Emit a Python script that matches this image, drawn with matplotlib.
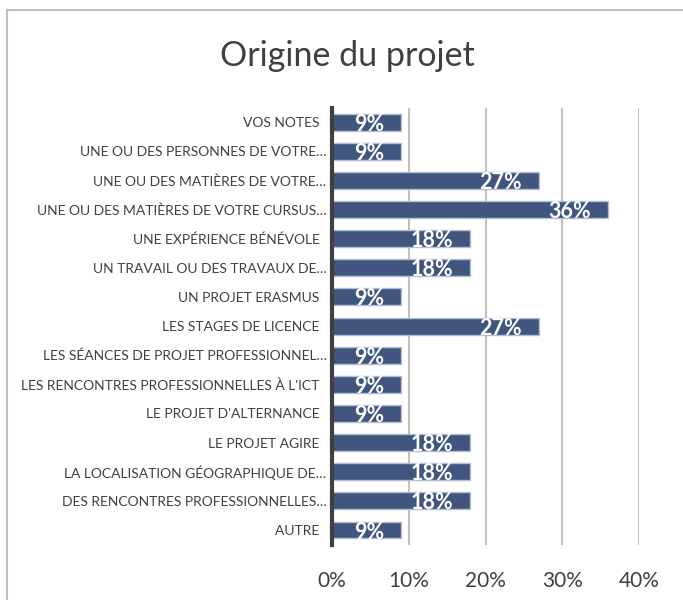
import matplotlib
matplotlib.use('Agg')
import matplotlib.pyplot as plt
from matplotlib.ticker import PercentFormatter
from matplotlib.lines import Line2D

# data (top to bottom as displayed)
categories = [
    "VOS NOTES",
    "UNE OU DES PERSONNES DE VOTRE…",
    "UNE OU DES MATIÈRES DE VOTRE…",
    "UNE OU DES MATIÈRES DE VOTRE CURSUS…",
    "UNE EXPÉRIENCE BÉNÉVOLE",
    "UN TRAVAIL OU DES TRAVAUX DE…",
    "UN PROJET ERASMUS",
    "LES STAGES DE LICENCE",
    "LES SÉANCES DE PROJET PROFESSIONNEL…",
    "LES RENCONTRES PROFESSIONNELLES À L'ICT",
    "LE PROJET D'ALTERNANCE",
    "LE PROJET AGIRE",
    "LA LOCALISATION GÉOGRAPHIQUE DE…",
    "DES RENCONTRES PROFESSIONNELLES…",
    "AUTRE",
]
values = [0.09, 0.09, 0.27, 0.36, 0.18, 0.18, 0.09, 0.27, 0.09, 0.09, 0.09, 0.18, 0.18, 0.18, 0.09]
xticks = [0, 0.1, 0.2, 0.3, 0.4]

plt.rcParams['font.family'] = ['Lato', 'DejaVu Sans']

fig = plt.figure(figsize=(6.83, 6.0), dpi=100)
ax = fig.add_axes([332/683, 1 - 544.6/600, 307/683, 437.1/600])

# chart frame (only top and left visible in the reference)
fig.add_artist(Line2D([7/683, 7/683], [0, 1 - 9.5/600], transform=fig.transFigure,
                      color='#bfbfbf', lw=1.5))
fig.add_artist(Line2D([7/683, 1], [1 - 9.5/600, 1 - 9.5/600], transform=fig.transFigure,
                      color='#bfbfbf', lw=1.5))

# trailing spaces mimic Excel's padding for non-truncated labels
labels = [c if c.endswith('…') else c + '  ' for c in categories]
y = list(range(len(categories)))
bars = ax.barh(y, values, height=0.58, color='#41567f', edgecolor='#b3bfd6', linewidth=1, zorder=3)
ax.set_ylim(len(categories) - 0.5, -0.5)
ax.set_yticks(y)
ax.set_yticklabels(labels, fontsize=10, color='#404040')
ax.tick_params(axis='y', length=0, pad=4)

ax.set_xlim(0, 0.4)
ax.set_xticks(xticks)
ax.xaxis.set_major_formatter(PercentFormatter(1.0, decimals=0))
ax.tick_params(axis='x', length=0, pad=19, labelsize=15, labelcolor='#404040')
ax.grid(axis='x', color='#c0c0c0', lw=1.5, zorder=0)

for s in ['top', 'right', 'bottom']:
    ax.spines[s].set_visible(False)
ax.spines['left'].set_color('#404040')
ax.spines['left'].set_linewidth(3)
ax.spines['left'].set_zorder(4)

for rect, v in zip(bars, values):
    ax.annotate(f"{v*100:.0f}%", xy=(v, rect.get_y() + rect.get_height() / 2),
                xytext=(-17, -2), textcoords='offset pixels', ha='right', va='center',
                color='white', fontsize=15.5, fontweight='bold', zorder=5)

fig.text(347/683, 1 - 56/600, "Origine du projet", ha='center', va='center',
         fontsize=24.5, color='#404040')

fig.savefig('out.png', dpi=100)
